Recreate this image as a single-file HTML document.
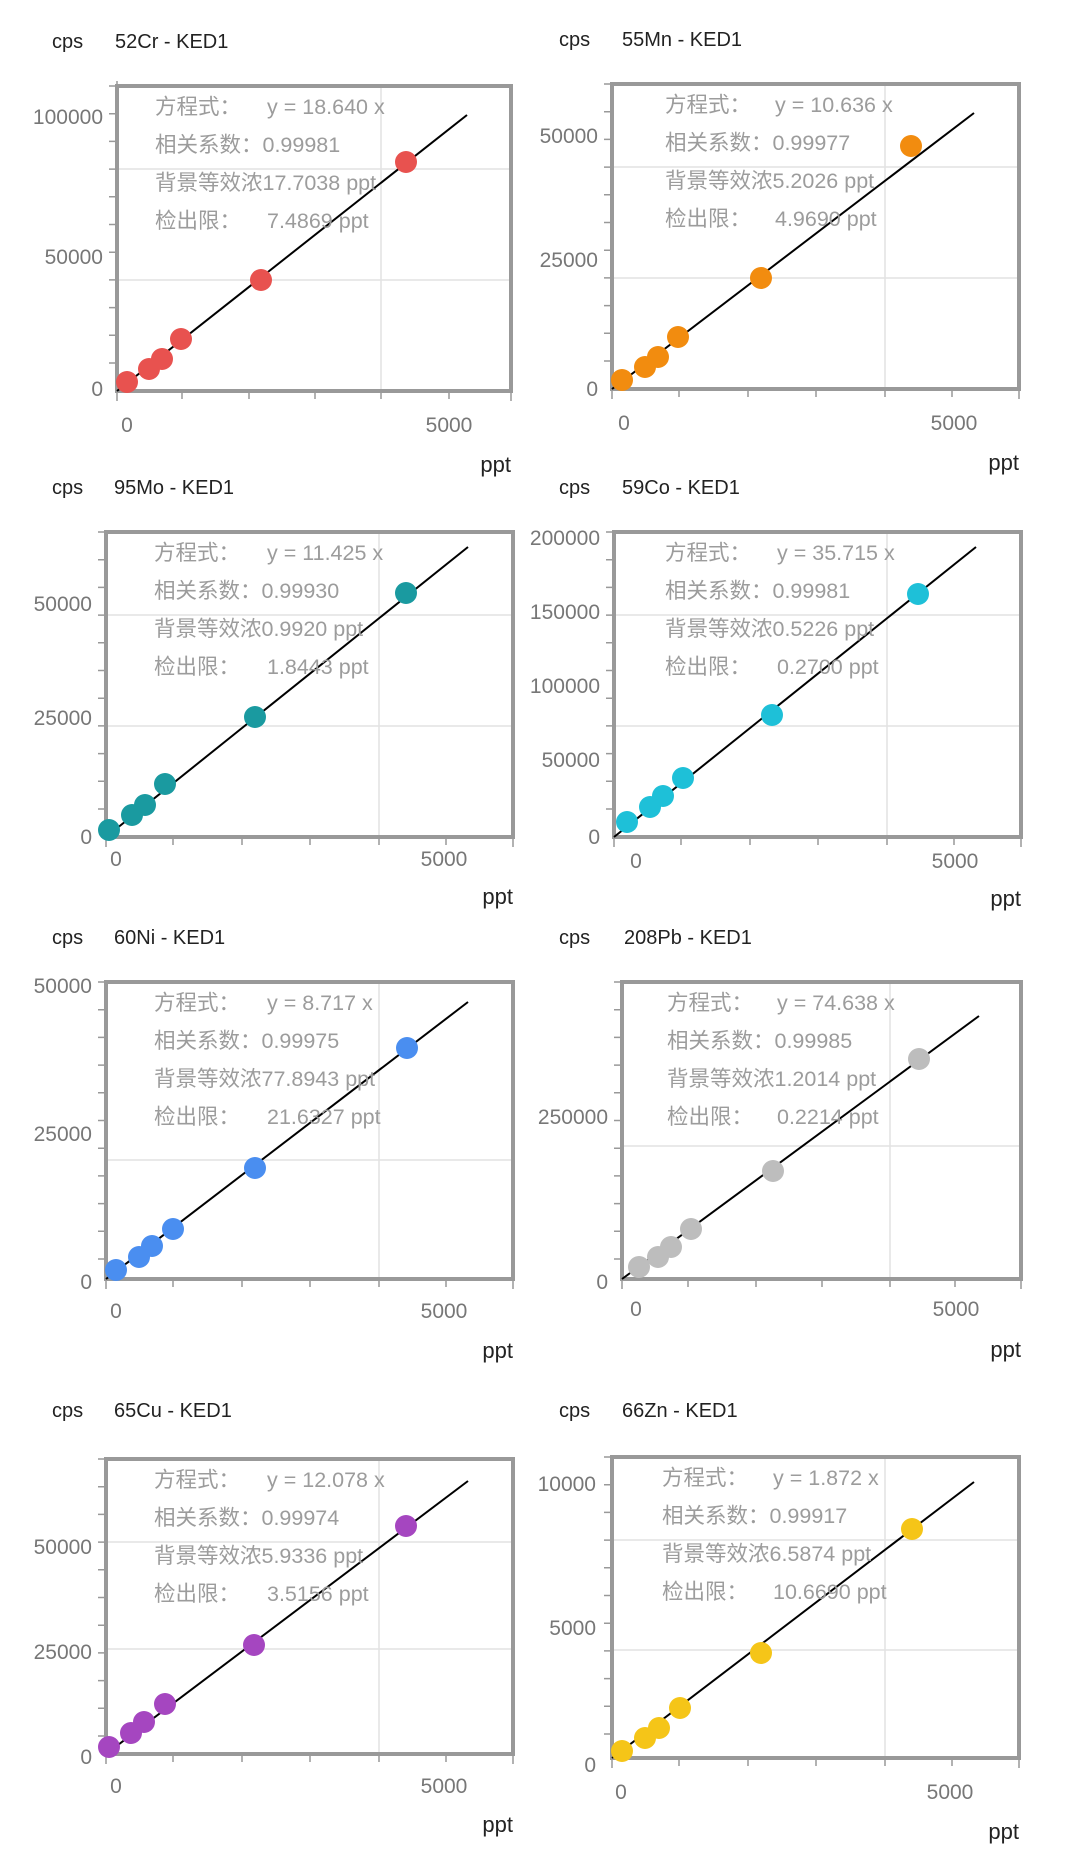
<!DOCTYPE html>
<html><head><meta charset="utf-8"><style>
body{margin:0;background:#fff}
svg{display:block}
text{font-family:"Liberation Sans","Noto Sans CJK SC",sans-serif}
.ax{font-size:21px;fill:#777}
.inf{font-size:21.5px;fill:#9c9c9c}
.tt{font-size:20px;fill:#222}
.frame{fill:none;stroke:#999;stroke-width:4}
.grid{stroke:#e2e2e2;stroke-width:1.5}
.tk{stroke:#999;stroke-width:1.5}
</style></head><body>
<svg width="1080" height="1874" viewBox="0 0 1080 1874" xmlns="http://www.w3.org/2000/svg">
<defs>
<g id="ty">
<path class="tk" d="M-8,0h8M-8,27.7h8M-8,55.4h8M-8,83.1h8M-8,110.8h8M-8,138.5h8M-8,166.2h8M-8,193.9h8M-8,221.6h8M-8,249.3h8M-8,277h8"/>
</g>
</defs>

<!-- C1 -->
<g transform="translate(117,86)">
<text class="tt" x="-65" y="-38">cps</text><text class="tt" x="-2" y="-38">52Cr - KED1</text>
<line class="grid" x1="264" y1="0" x2="264" y2="305"/><line class="grid" x1="0" y1="83" x2="394" y2="83"/><line class="grid" x1="0" y1="194" x2="394" y2="194"/>
<use href="#ty"/>
<path class="tk" d="M0,305v10M65,305v8M132,305v8M198,305v8M264,305v8M332,305v8M394,305v10M0,-5v10"/>
<rect class="frame" x="0" y="0" width="394" height="305"/>
<line x1="0" y1="305" x2="350" y2="29" stroke="#000" stroke-width="2"/>
<g fill="#e8524f"><circle cx="10" cy="296" r="11"/><circle cx="32" cy="283" r="11"/><circle cx="45" cy="273" r="11"/><circle cx="64" cy="253" r="11"/><circle cx="144" cy="194" r="11"/><circle cx="289" cy="76" r="11"/></g>
<g class="inf"><text x="38" y="28">方程式：</text><text x="150" y="28">y = 18.640 x</text><text x="38" y="66">相关系数：0.99981</text><text x="38" y="104">背景等效浓17.7038 ppt</text><text x="38" y="142">检出限：</text><text x="150" y="142">7.4869 ppt</text></g>
<g class="ax" text-anchor="end"><text x="-14" y="38">100000</text><text x="-14" y="178">50000</text><text x="-14" y="310">0</text></g>
<g class="ax" text-anchor="middle"><text x="10" y="346">0</text><text x="332" y="346">5000</text></g>
<text class="tt" x="394" y="386" text-anchor="end" style="font-size:22px">ppt</text>
</g>

<!-- C2 -->
<g transform="translate(612,84)">
<text class="tt" x="-53" y="-38">cps</text><text class="tt" x="10" y="-38">55Mn - KED1</text>
<line class="grid" x1="273" y1="0" x2="273" y2="305"/><line class="grid" x1="0" y1="83" x2="407" y2="83"/><line class="grid" x1="0" y1="194" x2="407" y2="194"/>
<use href="#ty"/>
<path class="tk" d="M0,305v10M67,305v8M136,305v8M204,305v8M273,305v8M340,305v8M407,305v10"/>
<rect class="frame" x="0" y="0" width="407" height="305"/>
<line x1="0" y1="305" x2="362" y2="29" stroke="#000" stroke-width="2"/>
<g fill="#f28c0f"><circle cx="10" cy="296" r="11"/><circle cx="33" cy="283" r="11"/><circle cx="46" cy="273" r="11"/><circle cx="66" cy="253" r="11"/><circle cx="149" cy="194" r="11"/><circle cx="299" cy="62" r="11"/></g>
<g class="inf"><text x="53" y="28">方程式：</text><text x="163" y="28">y = 10.636 x</text><text x="53" y="66">相关系数：0.99977</text><text x="53" y="104">背景等效浓5.2026 ppt</text><text x="53" y="142">检出限：</text><text x="163" y="142">4.9690 ppt</text></g>
<g class="ax" text-anchor="end"><text x="-14" y="59">50000</text><text x="-14" y="183">25000</text><text x="-14" y="312">0</text></g>
<g class="ax" text-anchor="middle"><text x="12" y="346">0</text><text x="342" y="346">5000</text></g>
<text class="tt" x="407" y="386" text-anchor="end" style="font-size:22px">ppt</text>
</g>

<!-- C3 -->
<g transform="translate(106,532)">
<text class="tt" x="-54" y="-38">cps</text><text class="tt" x="8" y="-38">95Mo - KED1</text>
<line class="grid" x1="273" y1="0" x2="273" y2="305"/><line class="grid" x1="0" y1="83" x2="407" y2="83"/><line class="grid" x1="0" y1="194" x2="407" y2="194"/>
<use href="#ty"/>
<path class="tk" d="M0,305v10M67,305v8M136,305v8M204,305v8M273,305v8M340,305v8M407,305v10"/>
<rect class="frame" x="0" y="0" width="407" height="305"/>
<line x1="0" y1="305" x2="362" y2="15" stroke="#000" stroke-width="2"/>
<g fill="#1a9aa0"><circle cx="3" cy="298" r="11"/><circle cx="26" cy="283" r="11"/><circle cx="39" cy="273" r="11"/><circle cx="59" cy="252" r="11"/><circle cx="149" cy="185" r="11"/><circle cx="300" cy="61" r="11"/></g>
<g class="inf"><text x="48" y="28">方程式：</text><text x="161" y="28">y = 11.425 x</text><text x="48" y="66">相关系数：0.99930</text><text x="48" y="104">背景等效浓0.9920 ppt</text><text x="48" y="142">检出限：</text><text x="161" y="142">1.8443 ppt</text></g>
<g class="ax" text-anchor="end"><text x="-14" y="79">50000</text><text x="-14" y="193">25000</text><text x="-14" y="312">0</text></g>
<g class="ax" text-anchor="middle"><text x="10" y="334">0</text><text x="338" y="334">5000</text></g>
<text class="tt" x="407" y="372" text-anchor="end" style="font-size:22px">ppt</text>
</g>

<!-- C4 -->
<g transform="translate(614,532)">
<text class="tt" x="-55" y="-38">cps</text><text class="tt" x="8" y="-38">59Co - KED1</text>
<line class="grid" x1="273" y1="0" x2="273" y2="305"/><line class="grid" x1="0" y1="83" x2="407" y2="83"/><line class="grid" x1="0" y1="194" x2="407" y2="194"/>
<use href="#ty"/>
<path class="tk" d="M0,305v10M67,305v8M136,305v8M204,305v8M273,305v8M340,305v8M407,305v10"/>
<rect class="frame" x="0" y="0" width="407" height="305"/>
<line x1="0" y1="305" x2="362" y2="15" stroke="#000" stroke-width="2"/>
<g fill="#1ec0d8"><circle cx="13" cy="290" r="11"/><circle cx="36" cy="275" r="11"/><circle cx="49" cy="264" r="11"/><circle cx="69" cy="246" r="11"/><circle cx="158" cy="183" r="11"/><circle cx="304" cy="62" r="11"/></g>
<g class="inf"><text x="51" y="28">方程式：</text><text x="163" y="28">y = 35.715 x</text><text x="51" y="66">相关系数：0.99981</text><text x="51" y="104">背景等效浓0.5226 ppt</text><text x="51" y="142">检出限：</text><text x="163" y="142">0.2700 ppt</text></g>
<g class="ax" text-anchor="end"><text x="-14" y="13">200000</text><text x="-14" y="87">150000</text><text x="-14" y="161">100000</text><text x="-14" y="235">50000</text><text x="-14" y="312">0</text></g>
<g class="ax" text-anchor="middle"><text x="22" y="336">0</text><text x="341" y="336">5000</text></g>
<text class="tt" x="407" y="374" text-anchor="end" style="font-size:22px">ppt</text>
</g>

<!-- C5 -->
<g transform="translate(106,982)">
<text class="tt" x="-54" y="-38">cps</text><text class="tt" x="8" y="-38">60Ni - KED1</text>
<line class="grid" x1="273" y1="0" x2="273" y2="297"/><line class="grid" x1="0" y1="178" x2="407" y2="178"/>
<use href="#ty"/>
<path class="tk" d="M0,297v10M67,297v8M136,297v8M204,297v8M273,297v8M340,297v8M407,297v10"/>
<rect class="frame" x="0" y="0" width="407" height="297"/>
<line x1="0" y1="297" x2="362" y2="20" stroke="#000" stroke-width="2"/>
<g fill="#4a8ef0"><circle cx="10" cy="288" r="11"/><circle cx="33" cy="275" r="11"/><circle cx="46" cy="264" r="11"/><circle cx="67" cy="247" r="11"/><circle cx="149" cy="186" r="11"/><circle cx="301" cy="66" r="11"/></g>
<g class="inf"><text x="48" y="28">方程式：</text><text x="161" y="28">y = 8.717 x</text><text x="48" y="66">相关系数：0.99975</text><text x="48" y="104">背景等效浓77.8943 ppt</text><text x="48" y="142">检出限：</text><text x="161" y="142">21.6327 ppt</text></g>
<g class="ax" text-anchor="end"><text x="-14" y="11">50000</text><text x="-14" y="159">25000</text><text x="-14" y="307">0</text></g>
<g class="ax" text-anchor="middle"><text x="10" y="336">0</text><text x="338" y="336">5000</text></g>
<text class="tt" x="407" y="376" text-anchor="end" style="font-size:22px">ppt</text>
</g>

<!-- C6 -->
<g transform="translate(622,982)">
<text class="tt" x="-63" y="-38">cps</text><text class="tt" x="2" y="-38">208Pb - KED1</text>
<line class="grid" x1="268" y1="0" x2="268" y2="297"/><line class="grid" x1="0" y1="164" x2="399" y2="164"/>
<use href="#ty"/>
<path class="tk" d="M0,297v10M66,297v8M134,297v8M200,297v8M268,297v8M333,297v8M399,297v10"/>
<rect class="frame" x="0" y="0" width="399" height="297"/>
<line x1="0" y1="297" x2="357" y2="34" stroke="#000" stroke-width="2"/>
<g fill="#bdbdbd"><circle cx="17" cy="285" r="11"/><circle cx="36" cy="275" r="11"/><circle cx="49" cy="265" r="11"/><circle cx="69" cy="247" r="11"/><circle cx="151" cy="189" r="11"/><circle cx="297" cy="77" r="11"/></g>
<g class="inf"><text x="45" y="28">方程式：</text><text x="155" y="28">y = 74.638 x</text><text x="45" y="66">相关系数：0.99985</text><text x="45" y="104">背景等效浓1.2014 ppt</text><text x="45" y="142">检出限：</text><text x="155" y="142">0.2214 ppt</text></g>
<g class="ax" text-anchor="end"><text x="-14" y="142">250000</text><text x="-14" y="307">0</text></g>
<g class="ax" text-anchor="middle"><text x="14" y="334">0</text><text x="334" y="334">5000</text></g>
<text class="tt" x="399" y="375" text-anchor="end" style="font-size:22px">ppt</text>
</g>

<!-- C7 -->
<g transform="translate(106,1459)">
<text class="tt" x="-54" y="-42">cps</text><text class="tt" x="8" y="-42">65Cu - KED1</text>
<line class="grid" x1="273" y1="0" x2="273" y2="295"/><line class="grid" x1="0" y1="83" x2="407" y2="83"/><line class="grid" x1="0" y1="190" x2="407" y2="190"/>
<use href="#ty"/>
<path class="tk" d="M0,295v10M67,295v8M136,295v8M204,295v8M273,295v8M340,295v8M407,295v10"/>
<rect class="frame" x="0" y="0" width="407" height="295"/>
<line x1="0" y1="295" x2="362" y2="22" stroke="#000" stroke-width="2"/>
<g fill="#a546c0"><circle cx="3" cy="288" r="11"/><circle cx="25" cy="274" r="11"/><circle cx="38" cy="263" r="11"/><circle cx="59" cy="245" r="11"/><circle cx="148" cy="186" r="11"/><circle cx="300" cy="67" r="11"/></g>
<g class="inf"><text x="48" y="28">方程式：</text><text x="161" y="28">y = 12.078 x</text><text x="48" y="66">相关系数：0.99974</text><text x="48" y="104">背景等效浓5.9336 ppt</text><text x="48" y="142">检出限：</text><text x="161" y="142">3.5156 ppt</text></g>
<g class="ax" text-anchor="end"><text x="-14" y="95">50000</text><text x="-14" y="200">25000</text><text x="-14" y="305">0</text></g>
<g class="ax" text-anchor="middle"><text x="10" y="334">0</text><text x="338" y="334">5000</text></g>
<text class="tt" x="407" y="373" text-anchor="end" style="font-size:22px">ppt</text>
</g>

<!-- C8 -->
<g transform="translate(612,1457)">
<text class="tt" x="-53" y="-40">cps</text><text class="tt" x="10" y="-40">66Zn - KED1</text>
<line class="grid" x1="273" y1="0" x2="273" y2="301"/><line class="grid" x1="0" y1="83" x2="407" y2="83"/><line class="grid" x1="0" y1="193" x2="407" y2="193"/>
<use href="#ty"/>
<path class="tk" d="M0,301v10M67,301v8M136,301v8M204,301v8M273,301v8M340,301v8M407,301v10"/>
<rect class="frame" x="0" y="0" width="407" height="301"/>
<line x1="0" y1="301" x2="362" y2="25" stroke="#000" stroke-width="2"/>
<g fill="#f5c518"><circle cx="10" cy="294" r="11"/><circle cx="33" cy="281" r="11"/><circle cx="47" cy="271" r="11"/><circle cx="68" cy="251" r="11"/><circle cx="149" cy="196" r="11"/><circle cx="300" cy="72" r="11"/></g>
<g class="inf"><text x="50" y="28">方程式：</text><text x="161" y="28">y = 1.872 x</text><text x="50" y="66">相关系数：0.99917</text><text x="50" y="104">背景等效浓6.5874 ppt</text><text x="50" y="142">检出限：</text><text x="161" y="142">10.6690 ppt</text></g>
<g class="ax" text-anchor="end"><text x="-16" y="34">10000</text><text x="-16" y="178">5000</text><text x="-16" y="315">0</text></g>
<g class="ax" text-anchor="middle"><text x="9" y="342">0</text><text x="338" y="342">5000</text></g>
<text class="tt" x="407" y="382" text-anchor="end" style="font-size:22px">ppt</text>
</g>
</svg>
</body></html>
